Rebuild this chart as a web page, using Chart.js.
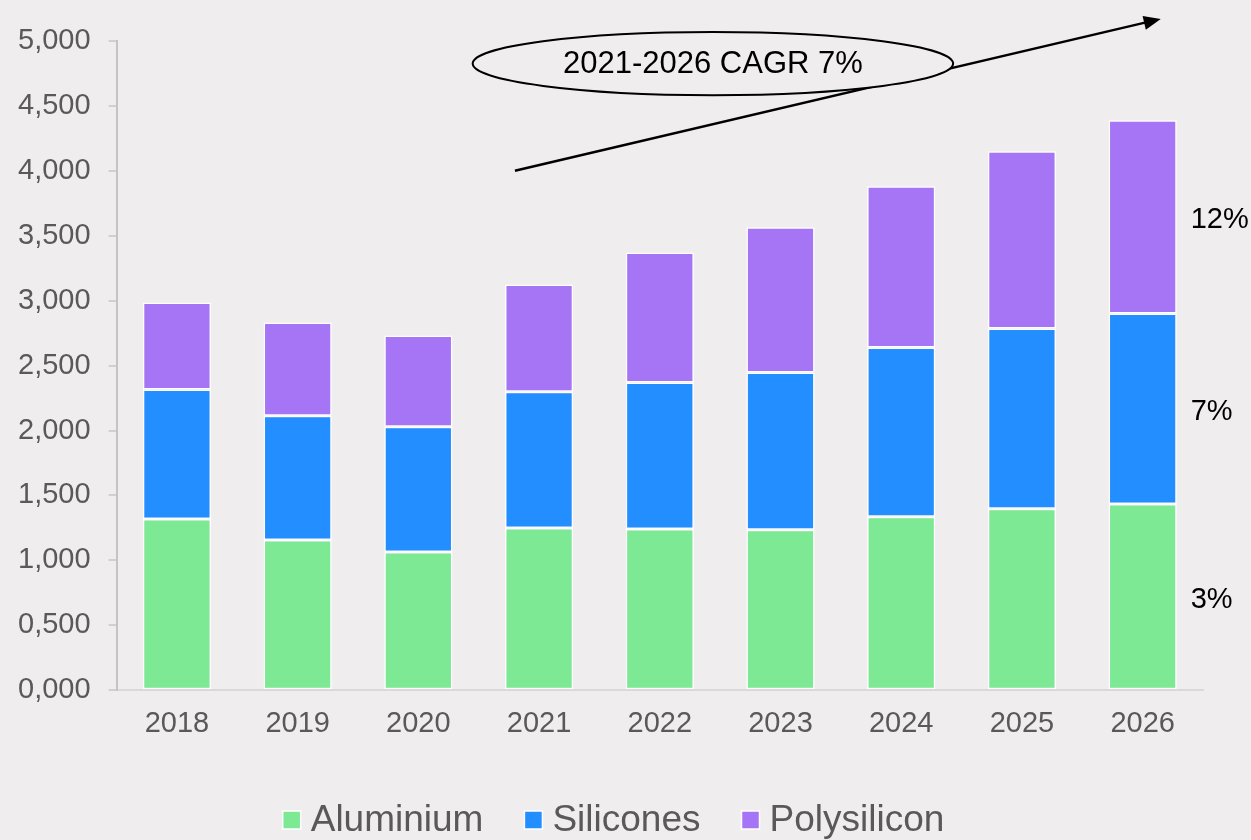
<!DOCTYPE html>
<html>
<head>
<meta charset="utf-8">
<script src="https://cdn.jsdelivr.net/npm/chart.js@4"></script>
<style>
  html, body { margin: 0; padding: 0; background: #efedee; }
  #wrap { width: 1251px; height: 840px; }
</style>
</head>
<body>
<div id="wrap"><canvas id="chart" width="1251" height="840"></canvas></div>
<script>
// values (thousands)
const years = ['2018', '2019', '2020', '2021', '2022', '2023', '2024', '2025', '2026'];
const aluminium = [1319, 1157, 1065, 1250, 1242, 1235, 1335, 1397, 1435];
const silicones = [996, 957, 964, 1049, 1127, 1211, 1304, 1388, 1466];
const polysilicon = [671, 718, 702, 826, 1003, 1119, 1242, 1366, 1489];
const growth = ['3%', '7%', '12%'];
const cagrText = '2021-2026 CAGR 7%';

const colors = ['#7de995', '#228eff', '#a675f5'];
const FONT = '"Liberation Sans", Arial, sans-serif';

function fmtTick(v) {
  const th = Math.floor(v / 1000);
  const rest = String(Math.round(v % 1000)).padStart(3, '0');
  return th + ',' + rest;
}

// arrow, ellipse and growth labels
const notes = {
  id: 'notes',
  afterDatasetsDraw(chart) {
    const ctx = chart.ctx;
    const x = chart.scales.x, y = chart.scales.y;
    ctx.save();

    // growth labels beside the last bar
    ctx.font = '29px ' + FONT;
    ctx.fillStyle = '#000';
    ctx.textAlign = 'left';
    ctx.textBaseline = 'middle';
    for (let i = 0; i < 3; i++) {
      const bars = chart.getDatasetMeta(i).data;
      const el = bars[bars.length - 1];
      ctx.fillText(growth[i], el.x + el.width / 2 + 14, (el.y + el.base) / 2 + 3);
    }

    // arrow
    const x1 = x.getPixelForValue(2.8), y1 = y.getPixelForValue(4000);
    const x2 = x.getPixelForValue(8.15), y2 = y.getPixelForValue(5170);
    const ang = Math.atan2(y2 - y1, x2 - x1);
    ctx.strokeStyle = '#000';
    ctx.lineWidth = 2.5;
    ctx.beginPath();
    ctx.moveTo(x1, y1);
    ctx.lineTo(x2 - 14 * Math.cos(ang), y2 - 14 * Math.sin(ang));
    ctx.stroke();
    ctx.fillStyle = '#000';
    ctx.beginPath();
    ctx.moveTo(x2, y2);
    ctx.lineTo(x2 - 17 * Math.cos(ang) + 7 * Math.sin(ang), y2 - 17 * Math.sin(ang) - 7 * Math.cos(ang));
    ctx.lineTo(x2 - 17 * Math.cos(ang) - 7 * Math.sin(ang), y2 - 17 * Math.sin(ang) + 7 * Math.cos(ang));
    ctx.closePath();
    ctx.fill();

    // ellipse with label
    const cx = x.getPixelForValue(4.44), cy = y.getPixelForValue(4826);
    const rx = x.getPixelForValue(6.43) - cx;
    const ry = y.getPixelForValue(4826) - y.getPixelForValue(5069);
    ctx.beginPath();
    ctx.ellipse(cx, cy, rx, ry, 0, 0, Math.PI * 2);
    ctx.fillStyle = '#efedee';
    ctx.fill();
    ctx.lineWidth = 2;
    ctx.stroke();
    ctx.font = '31px ' + FONT;
    ctx.fillStyle = '#000';
    ctx.textAlign = 'center';
    ctx.fillText(cagrText, cx, cy + 1);

    ctx.restore();
  },
  afterDraw(chart) {
    // legend
    const ctx = chart.ctx;
    ctx.save();
    ctx.font = '37px ' + FONT;
    ctx.textBaseline = 'middle';
    ctx.textAlign = 'left';
    const box = 18, gapText = 10, gapItem = 41;
    const items = chart.data.datasets.map(d => d.label);
    let total = 0;
    items.forEach((t, i) => {
      total += box + gapText + ctx.measureText(t).width;
      if (i < items.length - 1) total += gapItem;
    });
    let px = chart.width / 2 - 12 - total / 2;
    const py = 820;
    items.forEach((t, i) => {
      ctx.fillStyle = colors[i];
      ctx.fillRect(px, py - box / 2, box, box);
      ctx.strokeStyle = '#fff';
      ctx.lineWidth = 1.5;
      ctx.strokeRect(px, py - box / 2, box, box);
      px += box + gapText;
      ctx.fillStyle = '#595959';
      ctx.fillText(t, px, py + 1);
      px += ctx.measureText(t).width + gapItem;
    });
    ctx.restore();
  }
};

new Chart(document.getElementById('chart'), {
  type: 'bar',
  data: {
    labels: years,
    datasets: [
      { label: 'Aluminium', data: aluminium, backgroundColor: colors[0] },
      { label: 'Silicones', data: silicones, backgroundColor: colors[1] },
      { label: 'Polysilicon', data: polysilicon, backgroundColor: colors[2] }
    ]
  },
  options: {
    responsive: false,
    animation: false,
    layout: { padding: { top: 41, left: 0, right: 48, bottom: 91 } },
    datasets: {
      bar: {
        categoryPercentage: 1,
        barPercentage: 0.565,
        borderColor: '#ffffff',
        borderWidth: 1.5,
        borderSkipped: false
      }
    },
    plugins: {
      legend: { display: false },
      tooltip: { enabled: false }
    },
    scales: {
      x: {
        stacked: true,
        grid: { display: false },
        border: { display: true, color: '#d9d9d9', width: 2 },
        ticks: { color: '#595959', font: { family: FONT, size: 29 }, padding: 8 }
      },
      y: {
        stacked: true,
        min: 0,
        max: 5000,
        grid: { drawOnChartArea: false, tickLength: 8, color: '#d0d0d0', lineWidth: 2 },
        border: { display: true, color: '#c4c4c4', width: 2 },
        ticks: {
          stepSize: 500,
          color: '#595959',
          font: { family: FONT, size: 29 },
          padding: 18,
          callback: v => fmtTick(v)
        }
      }
    }
  },
  plugins: [notes]
});
</script>
</body>
</html>
